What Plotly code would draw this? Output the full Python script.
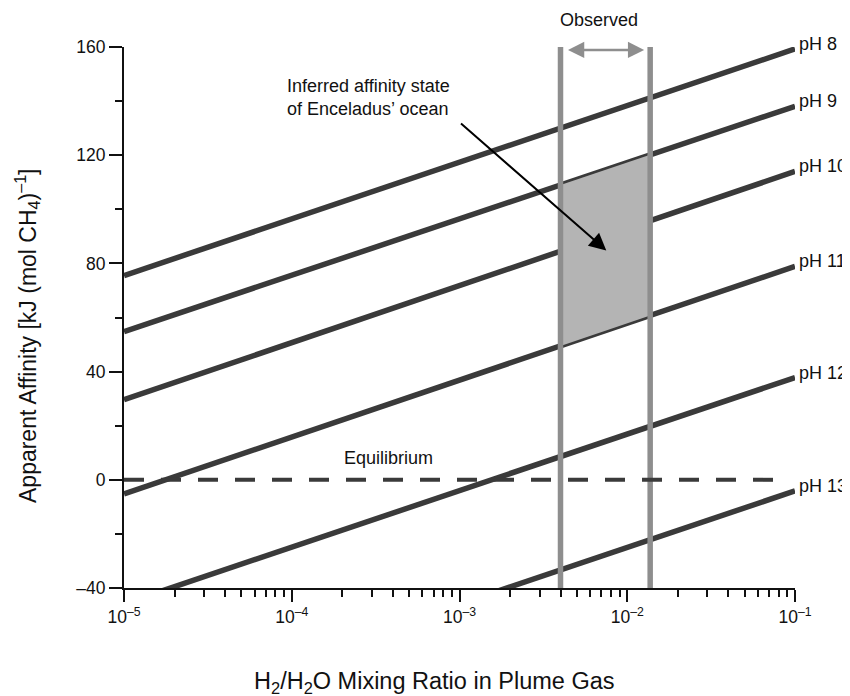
import numpy as np
import plotly.graph_objects as go

# ---- data ----
ph_labels = ["pH 8", "pH 9", "pH 10", "pH 11", "pH 12", "pH 13"]
x_ends = [1e-5, 1e-1]
affinity_start = [75.5, 54.8, 29.6, -5.2, -45.8, -87.7]   # at x = 1e-5
affinity_end = [159.3, 138.1, 114.0, 78.9, 37.8, -4.1]     # at x = 1e-1
observed_range = [0.0040, 0.0137]
equilibrium_x = [1e-5, 0.075]
equilibrium_y = [0, 0]
y_range = [-40, 160]
y_ticks = [-40, 0, 40, 80, 120, 160]
y_ticktext = ["–40", "0", "40", "80", "120", "160"]
x_ticks = [1e-5, 1e-4, 1e-3, 1e-2, 1e-1]
x_ticktext = ["10<sup>–5</sup>", "10<sup>–4</sup>", "10<sup>–3</sup>",
              "10<sup>–2</sup>", "10<sup>–1</sup>"]

FONT = "Liberation Sans, Arial, sans-serif"
DARK = "#3a3a3a"
GRAY = "#8e8e8e"
SHADE = "#b4b4b4"

# page body has an 8px default margin; compensate so the plot area lands where the reference has it
PAGE = 8
W, H = 850 - PAGE, 696 - PAGE
ML, MR, MT = 124 - PAGE, 55, 47 - PAGE
MB = H + PAGE - 588
PW, PH = W - ML - MR, H - MT - MB   # plot area size in px


def py(ypix):
    """reference pixel row -> paper y"""
    return (588 - ypix) / PH


def px(xpix):
    """reference pixel column -> paper x"""
    return (xpix - 124) / PW


fig = go.Figure()

# pH lines
for lab, a0, a1 in zip(ph_labels, affinity_start, affinity_end):
    fig.add_trace(go.Scatter(x=x_ends, y=[a0, a1], mode="lines",
                             line=dict(color=DARK, width=5.5),
                             showlegend=False, hoverinfo="skip"))

# shaded region between pH 9 and pH 11 inside the observed range
lx = np.log10(x_ends)
lo = np.log10(observed_range)
i9, i11 = ph_labels.index("pH 9"), ph_labels.index("pH 11")
top = np.interp(lo, lx, [affinity_start[i9], affinity_end[i9]])
bot = np.interp(lo, lx, [affinity_start[i11], affinity_end[i11]])
poly_x = [observed_range[0], observed_range[1], observed_range[1], observed_range[0], observed_range[0]]
poly_y = [top[0], top[1], bot[1], bot[0], top[0]]
fig.add_trace(go.Scatter(x=poly_x, y=poly_y, mode="lines", fill="toself",
                         fillcolor=SHADE, line=dict(width=0, color=SHADE),
                         showlegend=False, hoverinfo="skip"))

# observed vertical lines
for xo in observed_range:
    fig.add_trace(go.Scatter(x=[xo, xo], y=y_range, mode="lines",
                             line=dict(color=GRAY, width=5.5),
                             showlegend=False, hoverinfo="skip"))

# equilibrium dashed line
fig.add_trace(go.Scatter(x=equilibrium_x, y=equilibrium_y, mode="lines",
                         line=dict(color=DARK, width=4, dash="20px,17px"),
                         showlegend=False, hoverinfo="skip"))

annotations = []
# pH labels
for lab, a1 in zip(ph_labels, affinity_end):
    annotations.append(dict(x=1, xref="paper", y=a1, yref="y", text=lab,
                            showarrow=False, xanchor="left", yanchor="middle",
                            xshift=2, yshift=5,
                            font=dict(family=FONT, size=18, color="#111")))
# Observed label and double arrow
annotations.append(dict(x=float(np.mean(lo)) - 0.04, xref="x", y=py(20), yref="paper",
                        text="Observed", showarrow=False, xanchor="center", yanchor="middle",
                        font=dict(family=FONT, size=18, color="#111")))
annotations.append(dict(x=float(lo[1]), y=158.9, xref="x", yref="y",
                        ax=float(lo[0]), ay=158.9, axref="x", ayref="y",
                        text="", showarrow=True, arrowside="end+start",
                        arrowhead=2, startarrowhead=2, arrowsize=1.3, startarrowsize=1.3,
                        arrowwidth=2.5, arrowcolor=GRAY, standoff=6, startstandoff=6))
# inferred text + arrow
annotations.append(dict(x=-4.042, y=141.3, xref="x", yref="y",
                        text="Inferred affinity state<br>of Enceladus’ ocean",
                        showarrow=False, xanchor="left", yanchor="middle", align="left",
                        font=dict(family=FONT, size=18, color="#111")))
annotations.append(dict(x=-2.125, y=84.8, xref="x", yref="y",
                        ax=-3.0, ay=132.2, axref="x", ayref="y",
                        text="", showarrow=True, arrowhead=2, arrowsize=1.7,
                        arrowwidth=2, arrowcolor="#000"))
# Equilibrium
annotations.append(dict(x=-3.702, y=8.1, xref="x", yref="y", text="Equilibrium",
                        showarrow=False, xanchor="left", yanchor="middle",
                        font=dict(family=FONT, size=18, color="#111")))
# axis titles
annotations.append(dict(x=px(434), y=py(682), xref="paper", yref="paper",
                        text="H<sub>2</sub>/H<sub>2</sub>O Mixing Ratio in Plume Gas",
                        showarrow=False, xanchor="center", yanchor="middle",
                        font=dict(family=FONT, size=23.5, color="#111")))
annotations.append(dict(x=px(27), y=py(336), xref="paper", yref="paper",
                        text="Apparent Affinity [kJ (mol CH<sub>4</sub>)<sup>–1</sup>]",
                        textangle=-90, showarrow=False, xanchor="center", yanchor="middle",
                        font=dict(family=FONT, size=23, color="#111")))

minor_x = [k * d for d in x_ticks[:-1] for k in range(2, 10)]

fig.update_layout(
    width=W, height=H,
    margin=dict(l=ML, r=MR, t=MT, b=MB),
    paper_bgcolor="white", plot_bgcolor="white",
    annotations=annotations,
    xaxis=dict(type="log", range=[np.log10(x_ends[0]), np.log10(x_ends[1])],
               showgrid=False, zeroline=False, showline=True, linecolor="#111", linewidth=2,
               ticks="outside", ticklen=12, tickwidth=2, tickcolor="#111",
               tickvals=x_ticks, ticktext=x_ticktext,
               tickfont=dict(family=FONT, size=17.5, color="#111"),
               minor=dict(tickvals=minor_x, ticks="outside", ticklen=7, tickwidth=2,
                          tickcolor="#111", showgrid=False)),
    yaxis=dict(range=y_range, showgrid=False, zeroline=False, showline=True,
               linecolor="#111", linewidth=2,
               ticks="outside", ticklen=13, tickwidth=2, tickcolor="#111",
               tickvals=y_ticks, ticktext=y_ticktext,
               tickfont=dict(family=FONT, size=17.5, color="#111"),
               minor=dict(dtick=20, ticks="outside", ticklen=7, tickwidth=2,
                          tickcolor="#111", showgrid=False)),
)

fig.write_html("out.html")
